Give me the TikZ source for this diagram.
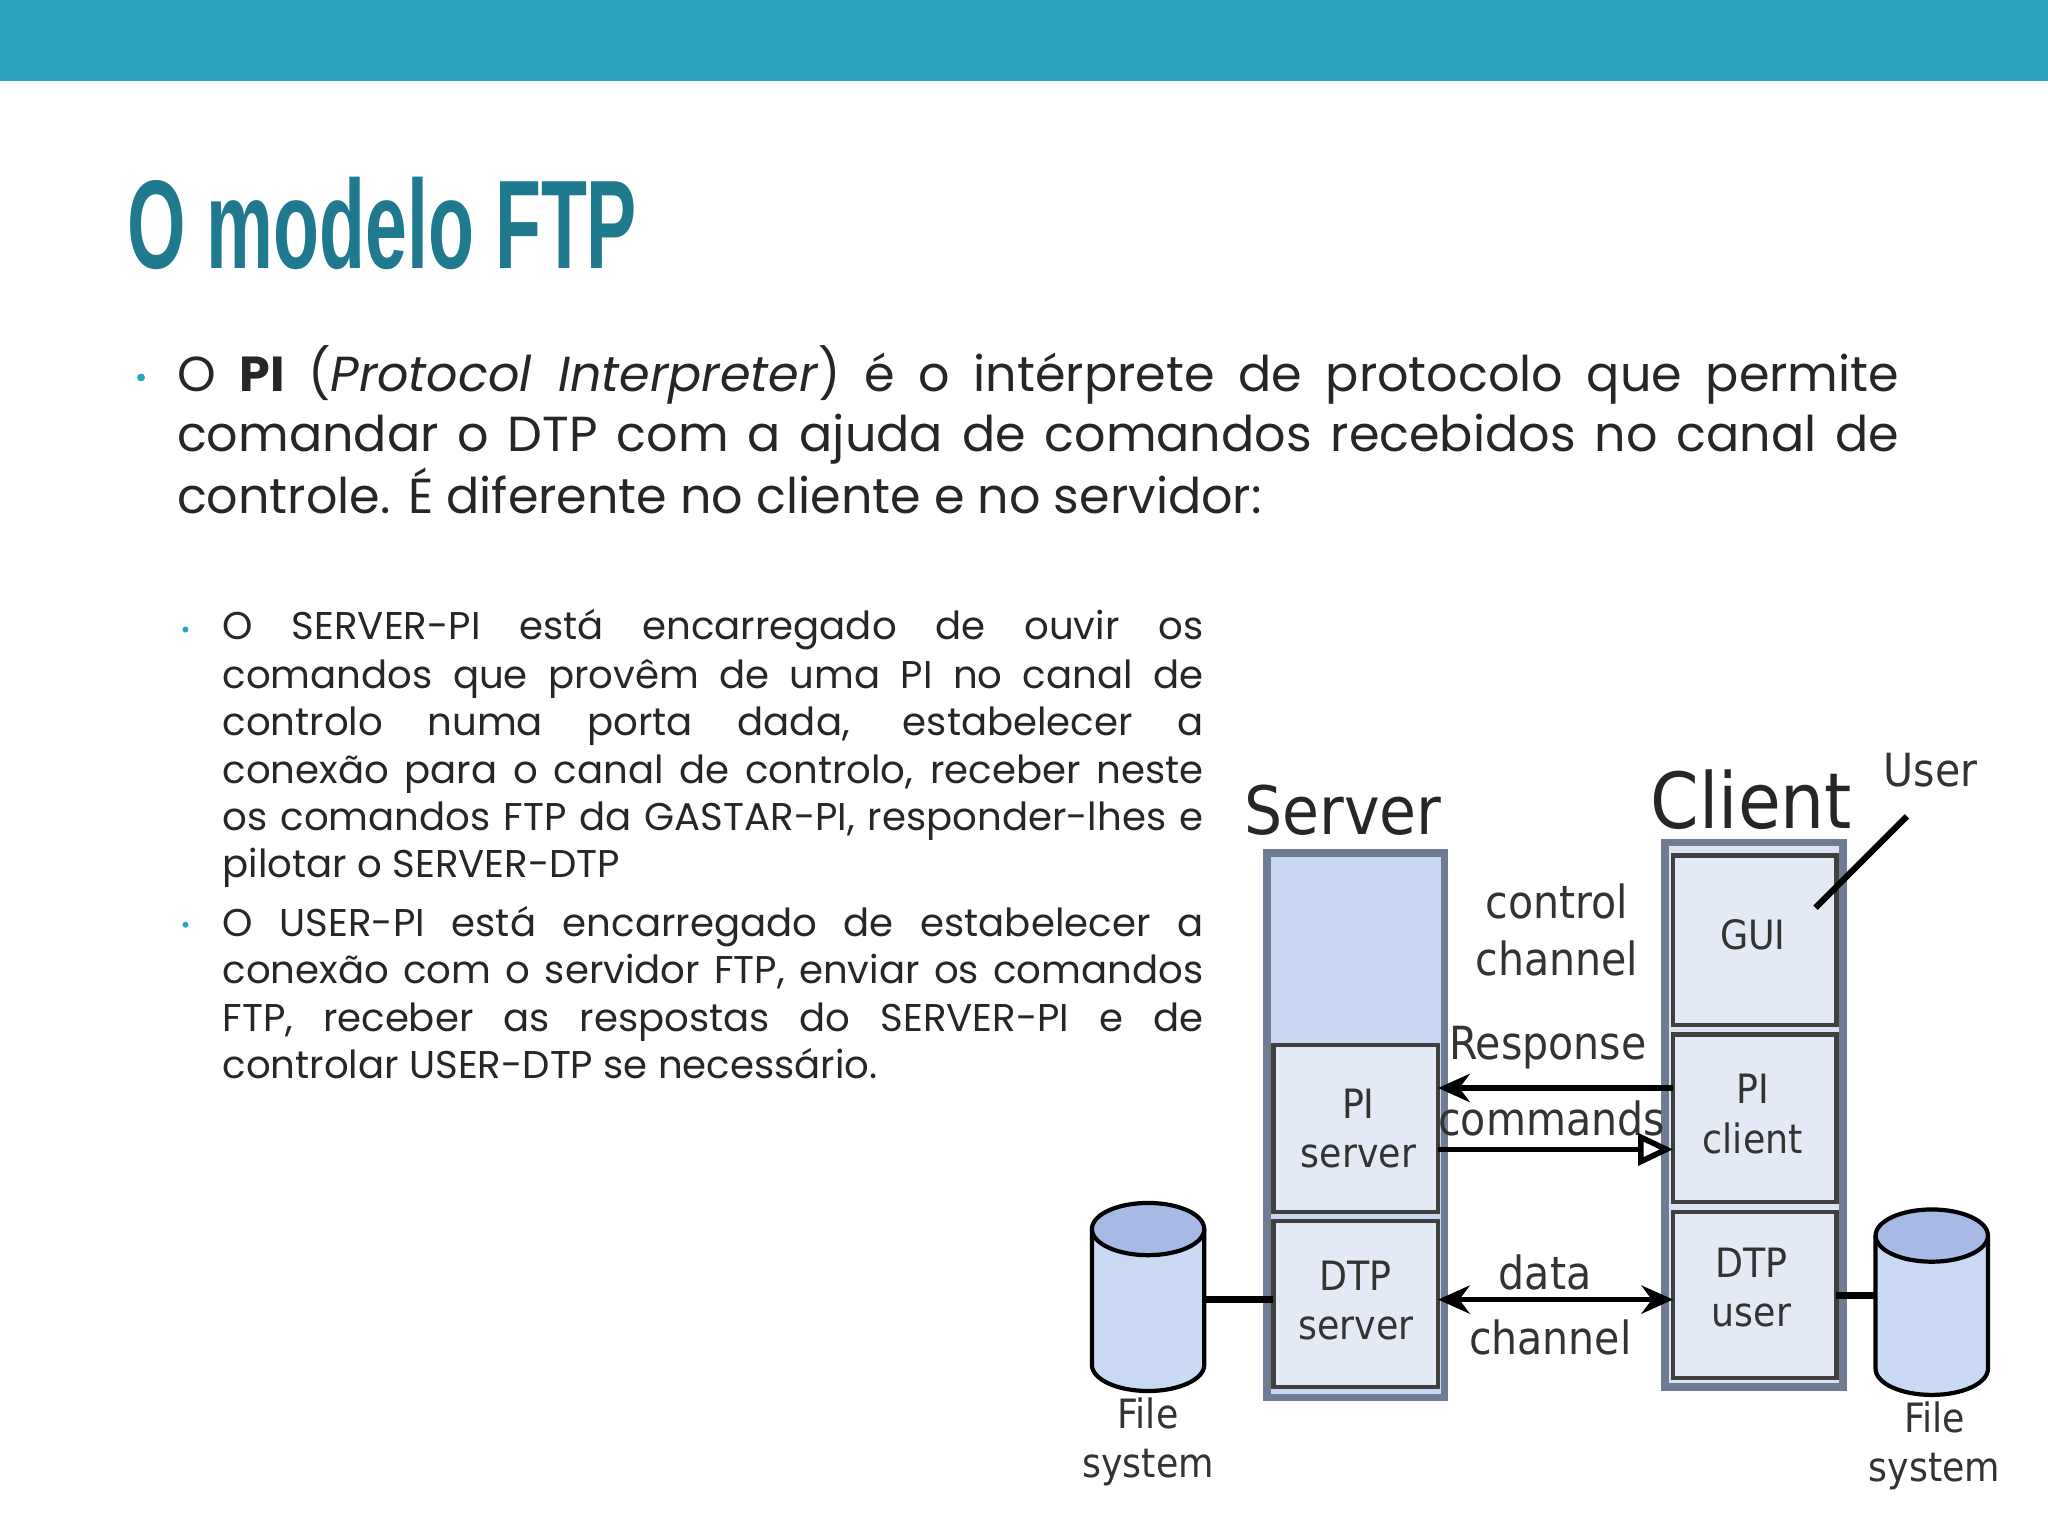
\documentclass[tikz,border=0pt]{standalone}
\usepackage{fontspec}
\usepackage{graphicx}
\usetikzlibrary{arrows.meta}
\setmainfont{Poppins}
\newfontfamily\titlefont{Liberation Sans}
\newfontfamily\dfont{DejaVu Sans Condensed}
\definecolor{bar}{HTML}{2DA3C0}
\definecolor{ttl}{HTML}{1F7A8F}
\definecolor{srvfill}{HTML}{C8D8F2}
\definecolor{inner}{HTML}{E3EAF5}
\definecolor{cli}{HTML}{D9E3F3}
\definecolor{edge}{HTML}{6F7C94}
\definecolor{cylb}{HTML}{CBDAF4}
\definecolor{cylt}{HTML}{A7BAE6}
\newcommand\jline[2]{\sbox0{#2}\ifdim\wd0>#1\relax\scalebox{\fpeval{(#1)/(\wd0)}}[1]{#2}\else\makebox[#1][s]{#2}\fi}
\tikzset{
  outerbox/.style={draw=edge,line width=2.2pt},
  innerbox/.style={draw=black!75,line width=1.2pt,fill=inner},
  dlab/.style={font=\dfont\fontsize{11.5}{14}\selectfont,align=center,text=black!80},
  clab/.style={font=\dfont\fontsize{13}{16}\selectfont,align=center,text=black!80},
  arr/.style={line width=1.6pt},
  mtext/.style={anchor=base west,inner sep=0,font=\fontsize{14}{17}\selectfont,text=black!85},
  stext/.style={anchor=base west,inner sep=0,font=\fontsize{11}{13}\selectfont,text=black!85},
}
\begin{document}
\begin{tikzpicture}[x=0.01306cm,y=-0.01306cm]
\useasboundingbox (0,0) rectangle (1568,1176);
\fill[bar] (0,0) rectangle (1568,62);
\node[anchor=south west,inner sep=0,text=ttl] (title) at (97,207) {\resizebox{145pt}{26pt}{\titlefont\bfseries O modelo FTP}};
% main bullet
\fill[bar] (108,289) circle (3);
\node[mtext] (m1) at (135,300) {\jline{490pt}{O \textbf{PI} (\textit{Protocol Interpreter}) é o intérprete de protocolo que permite}};
\node[mtext] (m2) at (135,346) {\jline{490pt}{comandar o DTP com a ajuda de comandos recebidos no canal de}};
\node[mtext] (m3) at (135,393) {controle. É diferente no cliente e no servidor:};
% sub bullets
\fill[bar] (142,482) circle (2.3);
\fill[bar] (142,708) circle (2.3);
\node[stext] (s1) at (170,490) {\jline{279pt}{O SERVER-PI está encarregado de ouvir os}};
\node[stext] (s2) at (170,527) {\jline{279pt}{comandos que provêm de uma PI no canal de}};
\node[stext] (s3) at (170,563) {\jline{279pt}{controlo numa porta dada, estabelecer a}};
\node[stext] (s4) at (170,600) {\jline{279pt}{conexão para o canal de controlo, receber neste}};
\node[stext] (s5) at (170,636) {\jline{279pt}{os comandos FTP da GASTAR-PI, responder-lhes e}};
\node[stext] (s6) at (170,672) {pilotar o SERVER-DTP};
\node[stext] (t1) at (170,717) {\jline{279pt}{O USER-PI está encarregado de estabelecer a}};
\node[stext] (t2) at (170,753) {\jline{279pt}{conexão com o servidor FTP, enviar os comandos}};
\node[stext] (t3) at (170,790) {\jline{279pt}{FTP, receber as respostas do SERVER-PI e de}};
\node[stext] (t4) at (170,826) {controlar USER-DTP se necessário.};
% diagram
\node[font=\dfont\fontsize{19}{21}\selectfont,text=black!85] (srvlab) at (1028,620) {Server};
\node[font=\dfont\fontsize{22}{24}\selectfont,text=black!85] (clilab) at (1341,612) {Client};
\node[font=\dfont\fontsize{13}{15}\selectfont,text=black!80] (userlab) at (1478,590) {User};
\draw[outerbox,fill=srvfill] (970,653) rectangle (1106,1070);
\node[outerbox,fill=cli,minimum width=136*0.01306cm,minimum height=417*0.01306cm,inner sep=0] (client) at (1343,853.5) {};
\draw[innerbox] (975,800) rectangle (1101,928);
\node[dlab] (pis) at (1040,864) {PI\\server};
\coordinate (pisR1) at (1101,833);
\coordinate (pisR2) at (1101,880);
\draw[innerbox] (975,935) rectangle (1101,1062);
\node[dlab] (dtps) at (1038,996) {DTP\\server};
\coordinate (dtpsL) at (975,995);
\coordinate (dtpsR) at (1101,995);
\draw[innerbox] (1281,655) rectangle (1406,785);
\node[dlab] (gui) at (1342,716) {GUI};
\draw[innerbox] (1281,792) rectangle (1406,920);
\node[dlab] (pic) at (1342,853) {PI\\client};
\coordinate (picL1) at (1281,833);
\coordinate (picL2) at (1281,880);
\draw[innerbox] (1281,928) rectangle (1406,1055);
\node[dlab] (dtpu) at (1341,986) {DTP\\user};
\coordinate (dtpuL) at (1281,995);
\coordinate (dtpuR) at (1406,992);
\coordinate (u1) at (1460,625);
\coordinate (u2) at (1390,695);
\draw[line width=1.8pt] (u1) -- (u2);
\node[clab] (ctl) at (1192,712) {control\\channel};
\node[clab] (resp) at (1185,802) {Response};
\node[clab] (cmd) at (1188,856) {commands};
\node[clab] (data) at (1183,974) {data};
\node[clab] (chan) at (1187,1024) {channel};
\draw[arr,-{Stealth[length=9pt,width=8pt]}] (picL1) -- (pisR1);
\draw[arr,-{Triangle[open,length=10pt,width=9pt]}] (pisR2) -- (picL2);
\draw[arr,{Stealth[length=9pt,width=8pt]}-{Stealth[length=9pt,width=8pt]}] (dtpsR) -- (dtpuL);
% cylinders
\foreach \cx/\ct/\cb in {879/941/1045,1479/946/1048}{
  \draw[line width=1.2pt,fill=cylb] (\cx-43,\ct) -- (\cx-43,\cb) arc[start angle=180,end angle=0,x radius=43,y radius=20] -- (\cx+43,\ct);
  \draw[line width=1.2pt,fill=cylt] (\cx,\ct) ellipse[x radius=43,y radius=20];
}
\coordinate (fsL) at (922,995);
\coordinate (fsR) at (1436,992);
\draw[line width=2pt] (fsL) -- (dtpsL);
\draw[line width=2pt] (dtpuR) -- (fsR);
\node[clab,font=\dfont\fontsize{11.5}{14}\selectfont] (fsl) at (879,1104) {File\\system};
\node[clab,font=\dfont\fontsize{11.5}{14}\selectfont] (fsr) at (1481,1107) {File\\system};
\end{tikzpicture}
\end{document}
